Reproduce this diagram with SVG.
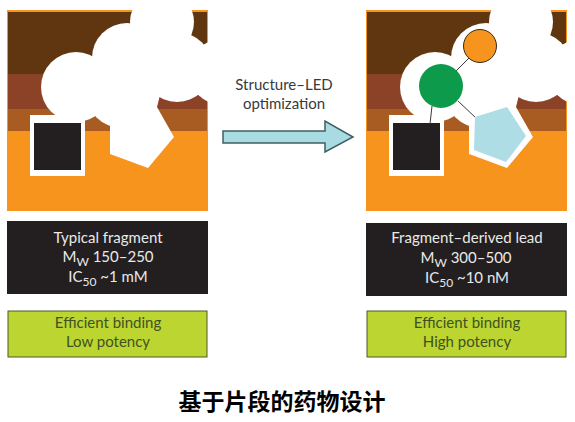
<svg xmlns="http://www.w3.org/2000/svg" width="575" height="422" viewBox="0 0 575 422">
  <style>
    .label { font-family: Lato, "Open Sans", sans-serif; font-size: 15px; text-anchor: middle; }
    .light { fill: #e9e9ea; }
    .olive { fill: #3f5220; }
    .sub { font-size: 12px; }
    .box-dark { fill: #231f20; }
    .box-green { fill: #bcd531; stroke: #4c5a2c; stroke-width: 1; }
    .bond { stroke: #3a3a3a; stroke-width: 1; fill: none; }
    .pocket { fill: #fff; }
  </style>
  <defs>
    <!-- Layered binding site with its white pocket and the anchored square fragment -->
    <g id="site">
      <rect x="0" y="10" width="201" height="201" fill="#f7941d"/>
      <rect x="1" y="12" width="199" height="62" fill="#5f360f"/>
      <rect x="1" y="74" width="199" height="35" fill="#8b4226"/>
      <rect x="1" y="109" width="199" height="22" fill="#a95c22"/>
      <g class="pocket">
        <circle cx="69" cy="87" r="35"/>
        <circle cx="120" cy="58" r="35"/>
        <circle cx="155" cy="22" r="32"/>
        <circle cx="170" cy="67" r="35"/>
        <circle cx="215" cy="72" r="33"/>
        <circle cx="115" cy="92" r="36"/>
        <polygon points="70,87 120,58 155,35 183,43 201,60 201,95 153,95 150,107 167,137 141,168 103,154 103,118 85,110"/>
      </g>
      <rect x="23" y="115" width="55" height="61" fill="#fff"/>
      <rect x="27" y="123" width="47" height="47" class="box-dark"/>
    </g>
  </defs>

  <g id="typical-site">
    <use href="#site" x="7"/>
  </g>

  <g id="lead-site">
    <use href="#site" x="366"/>
  </g>

  <g id="connectors">
    <line class="bond" x1="432" y1="106" x2="430" y2="124"/>
    <line class="bond" x1="456" y1="71" x2="469" y2="58"/>
    <line class="bond" x1="458" y1="101" x2="476" y2="118"/>
  </g>

  <g id="lead-pentagon">
    <polygon points="475,117 507,107 526,136 506,162 474,150" fill="#aedde6"/>
  </g>
  <g id="lead-green">
    <circle cx="441" cy="86" r="22" fill="#0d9b4b"/>
  </g>
  <g id="lead-orange">
    <circle cx="480" cy="46" r="16.5" fill="#f7941d" stroke="#3a2a14" stroke-width="1"/>
  </g>

  <g id="optimization-arrow">
    <polygon points="223,131 325,131 325,121 353,137 325,152 325,143 223,143" fill="#a9dbe3" stroke="#3f5f60" stroke-width="1.5"/>
    <text class="label" x="284" y="90" fill="#3a3a3a">Structure–LED</text>
    <text class="label" x="284" y="109" fill="#3a3a3a">optimization</text>
  </g>

  <g id="typical-properties">
    <rect x="7" y="221" width="201" height="73" class="box-dark"/>
    <text class="label light" x="108" y="243">Typical fragment</text>
    <text class="label light" x="108" y="262">M<tspan class="sub" dy="4">W</tspan><tspan dy="-4"> 150–250</tspan></text>
    <text class="label light" x="108" y="282">IC<tspan class="sub" dy="4">50</tspan><tspan dy="-4"> ~1 mM</tspan></text>
  </g>

  <g id="lead-properties">
    <rect x="366" y="223" width="201" height="73" class="box-dark"/>
    <text class="label light" x="467" y="243">Fragment–derived lead</text>
    <text class="label light" x="466" y="263">M<tspan class="sub" dy="4">W</tspan><tspan dy="-4"> 300–500</tspan></text>
    <text class="label light" x="467" y="283">IC<tspan class="sub" dy="4">50</tspan><tspan dy="-4"> ~10 nM</tspan></text>
  </g>

  <g id="typical-outcome">
    <rect x="8" y="311" width="199" height="46" class="box-green"/>
    <text class="label olive" x="108" y="328">Efficient binding</text>
    <text class="label olive" x="108" y="347">Low potency</text>
  </g>

  <g id="lead-outcome">
    <rect x="367" y="311" width="199" height="46" class="box-green"/>
    <text class="label olive" x="467" y="328">Efficient binding</text>
    <text class="label olive" x="467" y="347">High potency</text>
  </g>

  <g id="caption">
    <text x="282" y="410" text-anchor="middle" font-family="'Noto Sans CJK SC', sans-serif" font-size="23" font-weight="700" fill="#000">基于片段的药物设计</text>
  </g>
</svg>
